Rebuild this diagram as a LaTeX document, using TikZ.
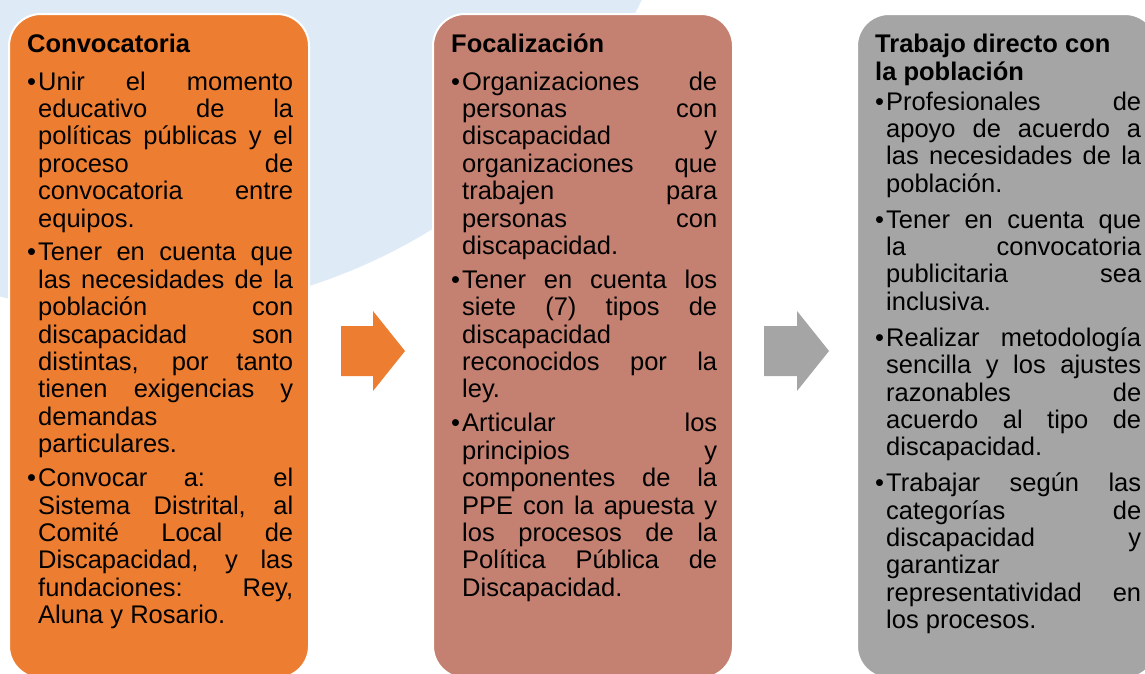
\documentclass[tikz,border=0pt]{standalone}
\usepackage{fontspec}
\setmainfont{Liberation Sans}

\definecolor{fondo}{HTML}{DEEBF7}
\definecolor{naranja}{HTML}{ED7D31}
\definecolor{salmon}{HTML}{C48070}
\definecolor{gris}{HTML}{A5A5A5}

\newcommand{\bitem}{\par\hangindent=11pt\hangafter=1\noindent\makebox[11pt][l]{•}}
\newcommand{\cuerpo}[2][6.5pt]{\parbox[t]{266pt}{\fontsize{25.5pt}{27.4pt}\selectfont
  \tolerance=10000\hbadness=10000\hyphenpenalty=10000
  \setlength{\parindent}{0pt}\setlength{\parskip}{#1}#2}}

\begin{document}
\begin{tikzpicture}[x=1pt,y=-1pt,
  caja/.style={draw=white,line width=2pt,rounded corners=32pt,
    minimum width=300pt,minimum height=664pt,inner sep=0pt},
  titulo/.style={anchor=base west,inner sep=0pt,
    font=\fontsize{25.5pt}{27.4pt}\selectfont\bfseries},
  texto/.style={anchor=base west,inner sep=0pt}]
  \useasboundingbox (0,0) rectangle (1145,673);
  \clip (0,0) rectangle (1145,673);
  \fill[fondo] (136,-252) circle[radius=565pt];

  \node[caja,fill=naranja] (conv) at (159,346) {};
  \node[caja,fill=salmon] (foca) at (583,346) {};
  \node[caja,fill=gris] (trab) at (1007,346) {};

  \fill[naranja] (341,326) -- (373,326) -- (373,311) -- (405,351)
    -- (373,391) -- (373,376) -- (341,376) -- cycle;
  \fill[gris] (764,326) -- (797,326) -- (797,311) -- (829,351)
    -- (797,391) -- (797,376) -- (764,376) -- cycle;

  \node[titulo] (tconv) at (27,52) {Convocatoria};
  \node[texto] (bconv) at (27,90) {\cuerpo{%
    \bitem Unir el momento\linebreak educativo de la\linebreak políticas públicas y el\linebreak proceso de\linebreak convocatoria entre\linebreak equipos.
    \bitem Tener en cuenta que\linebreak las necesidades de la\linebreak población con\linebreak discapacidad son\linebreak distintas, por tanto\linebreak tienen exigencias y\linebreak demandas\linebreak particulares.
    \bitem Convocar a: el\linebreak Sistema Distrital, al\linebreak Comité Local de\linebreak Discapacidad, y las\linebreak fundaciones: Rey,\linebreak Aluna y Rosario.}};

  \node[titulo] (tfoca) at (451,52) {Focalización};
  \node[texto] (bfoca) at (451,90) {\cuerpo{%
    \bitem Organizaciones de\linebreak personas con\linebreak discapacidad y\linebreak organizaciones que\linebreak trabajen para\linebreak personas con\linebreak discapacidad.
    \bitem Tener en cuenta los\linebreak siete (7) tipos de\linebreak discapacidad\linebreak reconocidos por la\linebreak ley.
    \bitem Articular los\linebreak principios y\linebreak componentes de la\linebreak PPE con la apuesta y\linebreak los procesos de la\linebreak Política Pública de\linebreak Discapacidad.}};

  \node[titulo] (ttrab) at (875,52.5) {Trabajo directo con};
  \node[titulo] (ttrab2) at (875,80) {la población};
  \node[texto] (btrab) at (875,110) {\cuerpo[8.5pt]{%
    \bitem Profesionales de\linebreak apoyo de acuerdo a\linebreak las necesidades de la\linebreak población.
    \bitem Tener en cuenta que\linebreak la convocatoria\linebreak publicitaria sea\linebreak inclusiva.
    \bitem Realizar metodología\linebreak sencilla y los ajustes\linebreak razonables de\linebreak acuerdo al tipo de\linebreak discapacidad.
    \bitem Trabajar según las\linebreak categorías de\linebreak discapacidad y\linebreak garantizar\linebreak representatividad en\linebreak los procesos.}};
\end{tikzpicture}
\end{document}
